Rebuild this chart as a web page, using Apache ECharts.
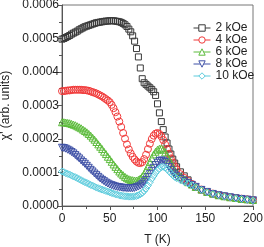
<!DOCTYPE html>
<html><head><meta charset="utf-8">
<script src="https://cdn.jsdelivr.net/npm/echarts@6/dist/echarts.min.js"></script>
<style>html,body{margin:0;padding:0;background:#fff}#c{width:264px;height:247px}</style>
</head><body><div id="c"></div>
<script>
var temps = [0,2,4,6,8,10,12,14,16,18,20,22,24,26,28,30,32,34,36,38,40,42,44,46,48,50,52,54,56,58,60,62,64,66,68,70,72,74,76,78,80,82,84,86,88,90,92,94,96,98,100,102,104,106,108,110,112,114,116,118,120,124,128,132,136,140,146,152,158,164,170,176,182,188,194,200];
var seriesNames = ['2 kOe','4 kOe','6 kOe','8 kOe','10 kOe'];
var chi2 = [0.000498,0.000500,0.000503,0.000506,0.000509,0.000513,0.000516,0.000519,0.000522,0.000526,
0.000529,0.000532,0.000535,0.000537,0.000539,0.000541,0.000543,0.000545,0.000547,0.000548,
0.000549,0.000550,0.000551,0.000552,0.000552,0.000553,0.000553,0.000553,0.000552,0.000551,
0.000550,0.000548,0.000545,0.000541,0.000536,0.000528,0.000520,0.000508,0.000492,0.000470,
0.000445,0.000412,0.000380,0.000368,0.000363,0.000358,0.000353,0.000348,0.000341,0.000330,
0.000305,0.000278,0.000252,0.000228,0.000206,0.000188,0.000170,0.000155,0.000140,0.000128,
0.000117,
0.000102,0.000090,0.000078,0.000064,0.000056,
0.000048,0.000041,0.000036,0.000032,0.000029,0.000026,0.000024,0.000021,0.000019,0.000017];
var chi4 = [0.000343,0.000343,0.000344,0.000345,0.000345,0.000346,0.000347,0.000347,0.000347,0.000347,
0.000347,0.000346,0.000346,0.000345,0.000344,0.000342,0.000340,0.000338,0.000336,0.000333,
0.000330,0.000327,0.000323,0.000319,0.000315,0.000310,0.000302,0.000292,0.000280,0.000267,
0.000252,0.000236,0.000218,0.000201,0.000184,0.000169,0.000157,0.000147,0.000139,0.000133,
0.000129,0.000128,0.000131,0.000140,0.000153,0.000170,0.000186,0.000200,0.000210,0.000216,
0.000218,0.000215,0.000208,0.000197,0.000184,0.000170,0.000156,0.000142,0.000130,0.000118,
0.000109,
0.000095,0.000084,0.000075,0.000066,0.000058,
0.000049,0.000042,0.000037,0.000033,0.000029,0.000026,0.000024,0.000022,0.000020,0.000018];
var chi6 = [0.000250,0.000250,0.000249,0.000248,0.000247,0.000245,0.000243,0.000241,0.000238,0.000235,
0.000232,0.000228,0.000224,0.000220,0.000215,0.000210,0.000204,0.000198,0.000191,0.000184,
0.000177,0.000170,0.000162,0.000155,0.000147,0.000140,0.000132,0.000124,0.000117,0.000110,
0.000103,0.000097,0.000092,0.000087,0.000083,0.000080,0.000078,0.000077,0.000076,0.000076,
0.000078,0.000082,0.000088,0.000096,0.000107,0.000119,0.000131,0.000143,0.000154,0.000162,
0.000168,0.000171,0.000172,0.000168,0.000160,0.000150,0.000139,0.000127,0.000116,0.000106,
0.000098,
0.000087,0.000079,0.000071,0.000064,0.000057,
0.000049,0.000042,0.000037,0.000032,0.000029,0.000026,0.000024,0.000021,0.000020,0.000018];
var chi8 = [0.000174,0.000173,0.000171,0.000168,0.000165,0.000161,0.000157,0.000152,0.000147,0.000142,
0.000136,0.000131,0.000126,0.000120,0.000114,0.000108,0.000103,0.000097,0.000092,0.000087,
0.000082,0.000078,0.000074,0.000070,0.000067,0.000064,0.000062,0.000060,0.000058,0.000057,
0.000056,0.000055,0.000054,0.000054,0.000053,0.000053,0.000053,0.000053,0.000054,0.000056,
0.000058,0.000061,0.000065,0.000071,0.000078,0.000086,0.000095,0.000105,0.000114,0.000122,
0.000129,0.000134,0.000136,0.000135,0.000131,0.000124,0.000116,0.000108,0.000100,0.000094,
0.000089,
0.000081,0.000075,0.000069,0.000063,0.000057,
0.000048,0.000042,0.000036,0.000032,0.000029,0.000026,0.000023,0.000021,0.000019,0.000017];
var chi10 = [0.000103,0.000101,0.000098,0.000096,0.000094,0.000091,0.000088,0.000086,0.000083,0.000080,
0.000077,0.000074,0.000071,0.000069,0.000066,0.000063,0.000061,0.000058,0.000055,0.000053,
0.000051,0.000049,0.000047,0.000045,0.000043,0.000041,0.000039,0.000037,0.000035,0.000034,
0.000032,0.000031,0.000030,0.000029,0.000029,0.000028,0.000028,0.000028,0.000029,0.000030,
0.000032,0.000035,0.000039,0.000045,0.000052,0.000061,0.000071,0.000081,0.000090,0.000099,
0.000106,0.000112,0.000116,0.000117,0.000115,0.000110,0.000104,0.000098,0.000092,0.000087,
0.000083,
0.000077,0.000072,0.000067,0.000062,0.000057,
0.000048,0.000041,0.000036,0.000032,0.000028,0.000026,0.000023,0.000021,0.000019,0.000017];
var xTicks = [0,50,100,150,200];
var yTicks = [0,0.0001,0.0002,0.0003,0.0004,0.0005,0.0006];

var allValues = [chi2, chi4, chi6, chi8, chi10];
var colors = ['#3a3a3a','#f03a3a','#5cbb3c','#3f51a6','#5ccbdc'];
var symbols = ['rect','circle','triangle','triangle','diamond'];
var rotates = [0,0,0,180,0];
var sizes = [6,7,7,7,7];

function zip(vals){ return temps.map(function(t,i){ return [t, vals[i]]; }); }

var series = seriesNames.map(function(name, k){
  return {
    name: name, type: 'line', data: zip(allValues[k]),
    symbol: symbols[k], symbolRotate: rotates[k], symbolSize: sizes[k],
    showSymbol: true, showAllSymbol: true,
    itemStyle: { color: 'rgba(255,255,255,0)', borderColor: colors[k], borderWidth: 1 },
    lineStyle: { color: colors[k], width: 1, opacity: 0 },
    emphasis: { disabled: true }
  };
});

var FONT = 'Liberation Sans';
var chart = echarts.init(document.getElementById('c'), null, {renderer: 'canvas'});
chart.setOption({
  animation: false,
  grid: { left: 62, right: 11, top: 5, bottom: 41, outerBoundsMode: 'none', containLabel: false,
    show: true, borderColor: '#777', borderWidth: 1, backgroundColor: 'transparent' },
  legend: {
    orient: 'vertical', left: 193, top: 22, padding: 0, itemGap: 0,
    itemWidth: 17, itemHeight: 8,
    itemStyle: { color: '#fff', borderWidth: 1 },
    lineStyle: { opacity: 1, width: 1 },
    textStyle: { fontFamily: FONT, fontSize: 12, color: '#222', lineHeight: 12 },
    data: seriesNames
  },
  xAxis: {
    type: 'value', min: xTicks[0], max: xTicks[xTicks.length-1], interval: 50,
    name: 'T (K)', nameLocation: 'middle', nameGap: 28,
    nameTextStyle: { fontFamily: FONT, fontSize: 12, color: '#222' },
    axisLine: { lineStyle: { color: '#555', width: 1 } },
    axisTick: { show: true, length: 4, lineStyle: { color: '#555' } },
    minorTick: { show: true, splitNumber: 2, length: 3, lineStyle: { color: '#555' } },
    splitLine: { show: false },
    axisLabel: { fontFamily: FONT, fontSize: 12, color: '#222', margin: 7 }
  },
  yAxis: {
    type: 'value', min: yTicks[0], max: yTicks[yTicks.length-1], interval: 0.0001,
    name: "χ' (arb. units)", nameLocation: 'middle', nameGap: 50,
    nameTextStyle: { fontFamily: FONT, fontSize: 12, color: '#222' },
    axisLine: { show: true, lineStyle: { color: '#555', width: 1 } },
    axisTick: { show: true, length: 4, lineStyle: { color: '#555' } },
    minorTick: { show: true, splitNumber: 2, length: 3, lineStyle: { color: '#555' } },
    splitLine: { show: false },
    axisLabel: { fontFamily: FONT, fontSize: 12, color: '#222', margin: 3,
      formatter: function(v){ return v.toFixed(4); } }
  },
  series: series
});
</script></body></html>
